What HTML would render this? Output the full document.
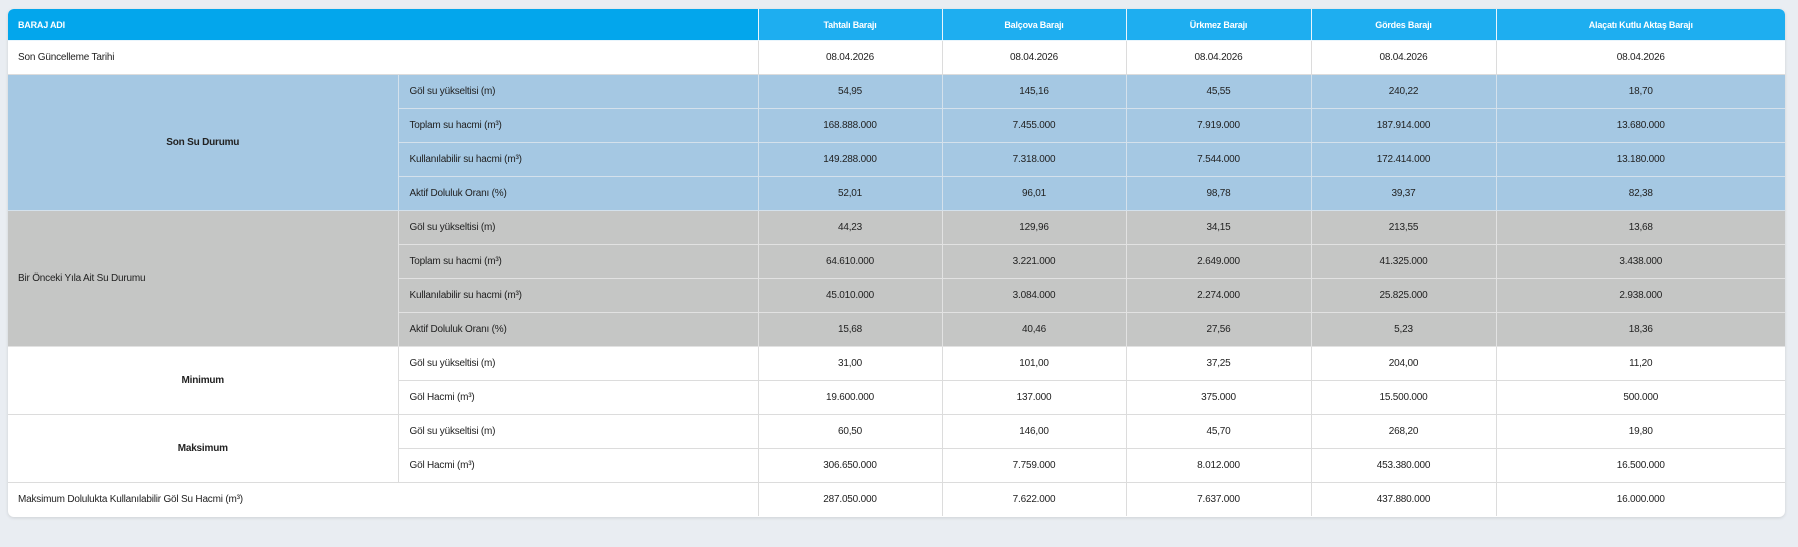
<!DOCTYPE html>
<html><head><meta charset="utf-8"><style>
html,body{margin:0;padding:0;background:#e9edf2;width:1798px;height:547px;overflow:hidden}
.wrap{position:absolute;left:8px;top:9px;width:1777px;height:508px;background:#fff;border-radius:6px;overflow:hidden;box-shadow:0 1px 3px rgba(0,0,0,.12)}
table{border-collapse:collapse;table-layout:fixed;width:1777px;font-family:"Liberation Sans",sans-serif;font-size:10px;color:#222}
td,th{height:33px;padding:0;border:1px solid #dcdcdc;text-align:center;letter-spacing:-0.2px}
th{height:31px;background:#1eaef0;color:#fff;font-weight:bold;font-size:9px;border-color:#e9f5fc;border-top:none}
th.f{background:#03a6ec;text-align:left;padding-left:10px;border-left:none}
tr td:first-child{border-left:none}
tr td:last-child,tr th:last-child{border-right:none}
.l{text-align:left;padding-left:10px}
.s{text-align:left;padding-left:11px}
.b td{background:#a5c8e3;border-color:#d4e1ec}
.g td{background:#c5c6c5;border-color:#e2e2e2}
.bold{font-weight:bold}
</style></head><body>
<div class="wrap"><table>
<colgroup><col style="width:390px"><col style="width:360px"><col style="width:184px"><col style="width:184px"><col style="width:185px"><col style="width:185px"><col style="width:289px"></colgroup>
<tr><th class="f" colspan="2">BARAJ ADI</th><th>Tahtalı Barajı</th><th>Balçova Barajı</th><th>Ürkmez Barajı</th><th>Gördes Barajı</th><th>Alaçatı Kutlu Aktaş Barajı</th></tr>
<tr><td class="l" colspan="2">Son Güncelleme Tarihi</td><td>08.04.2026</td><td>08.04.2026</td><td>08.04.2026</td><td>08.04.2026</td><td>08.04.2026</td></tr>
<tr class="b"><td rowspan="4" class="bold">Son Su Durumu</td><td class="s">Göl su yükseltisi (m)</td><td>54,95</td><td>145,16</td><td>45,55</td><td>240,22</td><td>18,70</td></tr>
<tr class="b"><td class="s">Toplam su hacmi (m³)</td><td>168.888.000</td><td>7.455.000</td><td>7.919.000</td><td>187.914.000</td><td>13.680.000</td></tr>
<tr class="b"><td class="s">Kullanılabilir su hacmi (m³)</td><td>149.288.000</td><td>7.318.000</td><td>7.544.000</td><td>172.414.000</td><td>13.180.000</td></tr>
<tr class="b"><td class="s">Aktif Doluluk Oranı (%)</td><td>52,01</td><td>96,01</td><td>98,78</td><td>39,37</td><td>82,38</td></tr>
<tr class="g"><td rowspan="4" class="l">Bir Önceki Yıla Ait Su Durumu</td><td class="s">Göl su yükseltisi (m)</td><td>44,23</td><td>129,96</td><td>34,15</td><td>213,55</td><td>13,68</td></tr>
<tr class="g"><td class="s">Toplam su hacmi (m³)</td><td>64.610.000</td><td>3.221.000</td><td>2.649.000</td><td>41.325.000</td><td>3.438.000</td></tr>
<tr class="g"><td class="s">Kullanılabilir su hacmi (m³)</td><td>45.010.000</td><td>3.084.000</td><td>2.274.000</td><td>25.825.000</td><td>2.938.000</td></tr>
<tr class="g"><td class="s">Aktif Doluluk Oranı (%)</td><td>15,68</td><td>40,46</td><td>27,56</td><td>5,23</td><td>18,36</td></tr>
<tr><td rowspan="2" class="bold">Minimum</td><td class="s">Göl su yükseltisi (m)</td><td>31,00</td><td>101,00</td><td>37,25</td><td>204,00</td><td>11,20</td></tr>
<tr><td class="s">Göl Hacmi (m³)</td><td>19.600.000</td><td>137.000</td><td>375.000</td><td>15.500.000</td><td>500.000</td></tr>
<tr><td rowspan="2" class="bold">Maksimum</td><td class="s">Göl su yükseltisi (m)</td><td>60,50</td><td>146,00</td><td>45,70</td><td>268,20</td><td>19,80</td></tr>
<tr><td class="s">Göl Hacmi (m³)</td><td>306.650.000</td><td>7.759.000</td><td>8.012.000</td><td>453.380.000</td><td>16.500.000</td></tr>
<tr><td class="l" colspan="2" style="border-bottom:none">Maksimum Dolulukta Kullanılabilir Göl Su Hacmi (m³)</td><td style="border-bottom:none">287.050.000</td><td style="border-bottom:none">7.622.000</td><td style="border-bottom:none">7.637.000</td><td style="border-bottom:none">437.880.000</td><td style="border-bottom:none">16.000.000</td></tr>
</table></div>
</body></html>
